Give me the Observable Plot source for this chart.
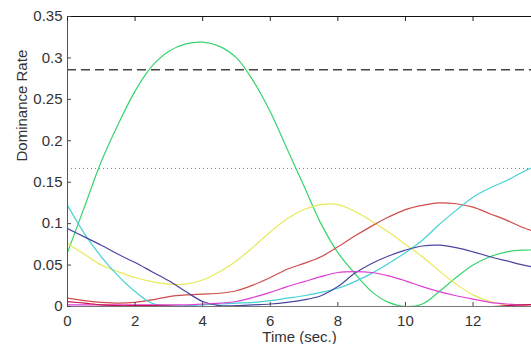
<!DOCTYPE html>
<html>
<head>
<meta charset="utf-8">
<script src="https://cdn.jsdelivr.net/npm/d3@7"></script>
<script src="https://cdn.jsdelivr.net/npm/@observablehq/plot@0.6"></script>
<style>
  html, body { margin: 0; padding: 0; background: #fff; overflow: hidden; }
</style>
</head>
<body>
<div id="chart"></div>
<script>
// time samples (sec.)
const time = [0,0.5,1,1.5,2,2.5,3,3.5,4,4.5,5,5.5,6,6.5,7,7.5,8,8.5,9,9.5,10,10.5,11,11.5,12,12.5,13,13.5,14];

const seriesA = [0.065,0.12,0.175,0.22,0.26,0.29,0.308,0.317,0.319,0.314,0.3,0.272,0.235,0.19,0.145,0.1,0.065,0.04,0.018,0.005,0,0.003,0.018,0.035,0.05,0.06,0.066,0.068,0.068];
const seriesB = [0.076,0.063,0.05,0.042,0.035,0.03,0.027,0.027,0.032,0.042,0.055,0.072,0.09,0.106,0.117,0.123,0.123,0.115,0.103,0.09,0.075,0.06,0.043,0.027,0.014,0.006,0.002,0.001,0];
const seriesC = [0.01,0.007,0.005,0.004,0.005,0.008,0.012,0.014,0.015,0.016,0.019,0.026,0.035,0.045,0.052,0.06,0.072,0.085,0.097,0.108,0.117,0.122,0.125,0.124,0.12,0.112,0.104,0.095,0.088];
const seriesD = [0.122,0.088,0.06,0.037,0.018,0.004,0.001,0.001,0.002,0.003,0.004,0.005,0.007,0.01,0.013,0.017,0.022,0.03,0.04,0.052,0.065,0.08,0.099,0.116,0.132,0.143,0.152,0.163,0.172];
const seriesE = [0.094,0.084,0.074,0.063,0.053,0.042,0.031,0.018,0.006,0.001,0.001,0.002,0.003,0.005,0.008,0.013,0.024,0.04,0.052,0.061,0.068,0.073,0.074,0.071,0.066,0.06,0.055,0.05,0.046];
const seriesF = [0.002,0.002,0.002,0.002,0.002,0.002,0.002,0.002,0.003,0.004,0.006,0.011,0.017,0.024,0.03,0.036,0.041,0.042,0.041,0.037,0.031,0.024,0.018,0.013,0.009,0.005,0.003,0.002,0.002];
const seriesG = [0.006,0.004,0.002,0.001,0.001,0.001,0.0005,0,0,0,0,0,0,0,0,0,0,0,0,0,0,0,0,0,0,0,0.001,0.002,0.003];

const seriesNames  = ["S1","S2","S3","S4","S5","S6","S7"];
const seriesValues = [seriesA, seriesB, seriesC, seriesD, seriesE, seriesF, seriesG];
const seriesColors = ["#35d46c","#e8ea55","#cf4c4c","#45d2d6","#4a46a0","#dc40d2","#c8104a"];

// reference levels
const refLevels = [2/7, 1/6];

// ticks
const xTicks = [0,2,4,6,8,10,12];
const yTicks = [0,0.05,0.1,0.15,0.2,0.25,0.3,0.35];
const yTickLabels = ["0","0.05","0.1","0.15","0.2","0.25","0.3","0.35"];
const xLabel = "Time (sec.)";
const yLabel = "Dominance Rate";

const rows = [];
seriesNames.forEach((name, i) => {
  time.forEach((t, j) => rows.push({name, t, v: seriesValues[i][j]}));
});

const font = "'Liberation Sans', Arial, sans-serif";

const chart = Plot.plot({
  width: 531,
  height: 344,
  marginLeft: 67,
  marginRight: 0,
  marginTop: 16,
  marginBottom: 38,
  style: {fontFamily: font, fontSize: "15px", color: "#333", background: "#fff", overflow: "hidden"},
  x: {domain: [0, 13.73], label: null},
  y: {domain: [0, 0.35], label: null},
  color: {type: "ordinal", domain: seriesNames, range: seriesColors},
  marks: [
    Plot.ruleY([refLevels[0]], {stroke: "#444", strokeWidth: 1.3, strokeDasharray: "9,5"}),
    Plot.ruleY([refLevels[1]], {stroke: "#777", strokeWidth: 1, strokeDasharray: "1,3"}),
    Plot.line(rows, {x: "t", y: "v", z: "name", stroke: "name", strokeWidth: 1.2, curve: "catmull-rom", clip: true}),
    Plot.ruleY([0.35], {stroke: "#111", strokeWidth: 1}),
    Plot.ruleY([0], {stroke: "#777", strokeWidth: 1.2}),
    Plot.ruleX([0], {stroke: "#555", strokeWidth: 1}),
    Plot.axisY(yTicks, {anchor: "left", tickSize: 0, tickPadding: 5, tickFormat: (d, i) => yTickLabels[i], fill: "#333"}),
    Plot.axisY(yTicks, {anchor: "left", tickSize: -4, text: null, stroke: "#444"}),
    Plot.axisX(xTicks, {anchor: "bottom", tickSize: 0, tickPadding: 9, fill: "#333"}),
    Plot.axisX(xTicks, {anchor: "bottom", tickSize: -4, text: null, stroke: "#444"}),
    Plot.axisX(xTicks, {anchor: "top", tickSize: -4, text: null, stroke: "#222"}),
    Plot.text([yLabel], {frameAnchor: "left", rotate: -90, dx: -45, fill: "#333", fontSize: 15}),
    Plot.text([xLabel], {frameAnchor: "bottom", dy: 35, fill: "#333", fontSize: 15})
  ]
});
document.getElementById("chart").appendChild(chart);
</script>
</body>
</html>
